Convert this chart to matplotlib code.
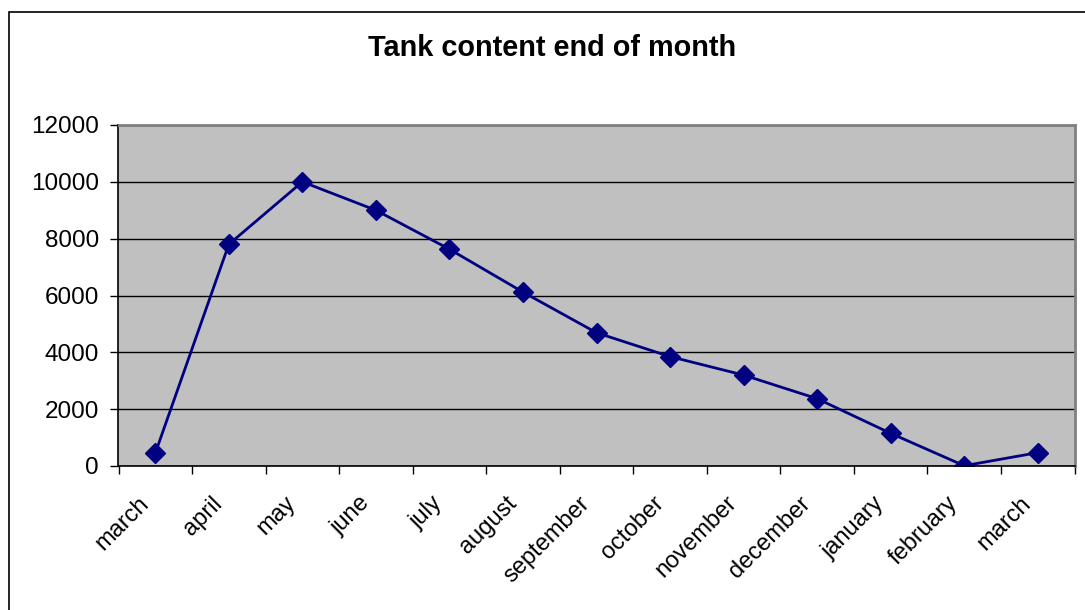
import matplotlib.pyplot as plt
from matplotlib.patches import Rectangle
from matplotlib.ticker import FixedLocator, NullFormatter
from matplotlib.transforms import ScaledTranslation

plt.rcParams['font.family'] = ['Liberation Sans', 'DejaVu Sans']

months = ["march", "april", "may", "june", "july", "august", "september",
          "october", "november", "december", "january", "february", "march"]
content = [450, 7800, 10000, 9000, 7630, 6120, 4690, 3850, 3200, 2370, 1150, 10, 470]
y_ticks = [0, 2000, 4000, 6000, 8000, 10000, 12000]

fig = plt.figure(figsize=(10.85, 6.1), dpi=100)
W, H = 1085, 610

# outer chart border (runs off the right and bottom edges)
fig.patches.append(Rectangle((8.5 / W, -0.05), 1.1, (H - 11.5) / H + 0.05,
                             transform=fig.transFigure, fill=False,
                             edgecolor='black', linewidth=1.2))

ax = fig.add_axes([118.5 / W, (H - 466) / H, 956 / W, 341 / H])
ax.set_facecolor('#C0C0C0')

x = list(range(len(months)))
ax.plot(x, content, color='#000080', linewidth=2, marker='D',
        markersize=10, markerfacecolor='#000080', markeredgecolor='#000080')

ax.set_xlim(-0.5, len(months) - 0.5)
ax.set_ylim(0, 12000)
ax.set_yticks(y_ticks)
ax.yaxis.grid(True, color='black', linewidth=1)
ax.set_axisbelow(True)

# category boundaries as ticks, labels at centres
ax.xaxis.set_major_locator(FixedLocator([i - 0.5 for i in range(len(months) + 1)]))
ax.xaxis.set_major_formatter(NullFormatter())
ax.tick_params(axis='x', which='major', length=6, width=1, direction='out', color='black')
ax.tick_params(axis='y', length=6, width=1, direction='out', labelsize=17.5, pad=8)

# rotated month labels, anchored at their right end below each category
lab_tf = ax.get_xaxis_transform() + ScaledTranslation(-10 / 100, -34 / 100, fig.dpi_scale_trans)
for i, m in enumerate(months):
    ax.text(i, 0, m, transform=lab_tf, rotation=45, ha='right', va='center',
            rotation_mode='anchor', fontsize=17, clip_on=False)

for side in ['top', 'right']:
    ax.spines[side].set_color('#808080')
    ax.spines[side].set_linewidth(2)
ax.spines['left'].set_color('black')
ax.spines['bottom'].set_color('black')
ax.spines['left'].set_linewidth(1.2)
ax.spines['bottom'].set_linewidth(1.2)

fig.text(552 / W, 1 - 48 / H, 'Tank content end of month', ha='center', va='center',
         fontsize=20.8, fontweight='bold')

fig.savefig('out.png', dpi=100)
